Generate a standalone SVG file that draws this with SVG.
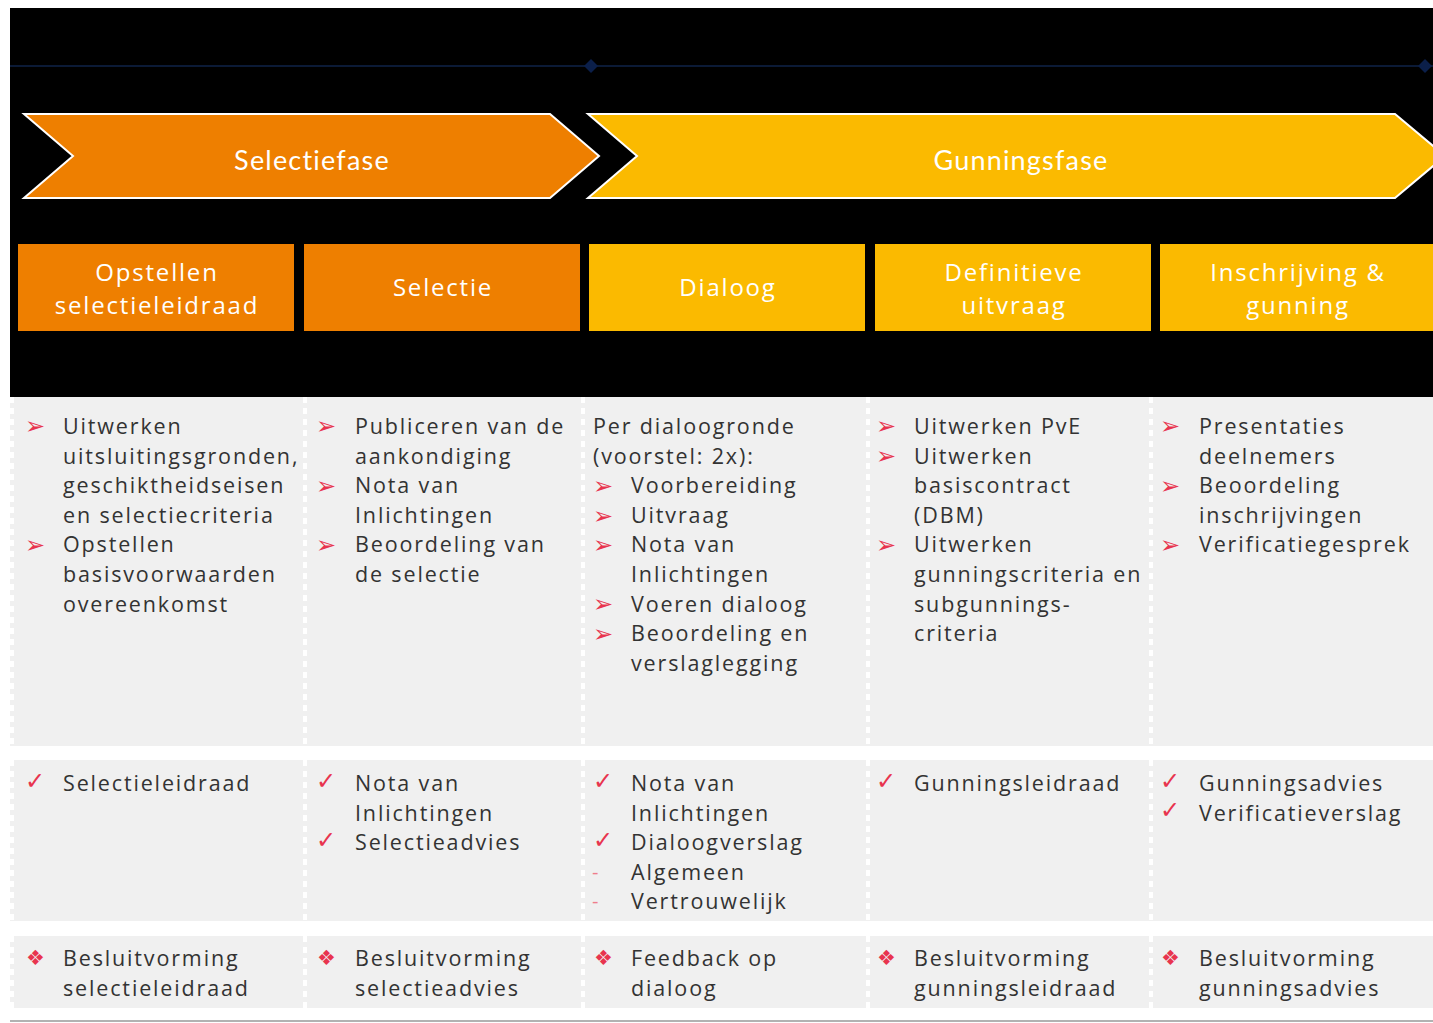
<svg xmlns="http://www.w3.org/2000/svg" width="1433" height="1023" viewBox="0 0 1433 1023">
<style>
.ph{font-family:Lato,"Liberation Sans",sans-serif;font-size:27px;fill:#fff;text-anchor:middle;letter-spacing:1.2px}
.hd{font-family:"Open Sans","Noto Sans",sans-serif;font-size:24px;fill:#fff;text-anchor:middle;letter-spacing:1.8px}
.tx{font-family:"Open Sans","Noto Sans",sans-serif;font-size:21.5px;fill:#333;letter-spacing:1.85px}
.bl{font-family:"DejaVu Sans",sans-serif;font-size:24px;fill:#e8344e}
.ck{font-family:"DejaVu Sans",sans-serif;font-size:24px;fill:#e8344e}
.dm{font-family:"DejaVu Sans",sans-serif;font-size:21px;fill:#e8344e}
.dash{font-family:"DejaVu Sans",sans-serif;font-size:18px;fill:#ef7d8c}
.or{fill:#ee7f00}
.ye{fill:#fbba00}
.cell{fill:#f0f0f0}
.sep{stroke:#fff;stroke-width:4;stroke-dasharray:6 5}
</style>
<rect x="0" y="0" width="1433" height="1023" fill="#fff"/>
<rect x="10" y="8" width="1423" height="389" fill="#000"/>
<g id="timeline">
<line x1="10" y1="66" x2="1433" y2="66" stroke="#0b1a36" stroke-width="2"/>
<polygon points="591,59 598,66 591,73 584,66" fill="#0b1f4a"/>
<polygon points="1425,59 1432,66 1425,73 1418,66" fill="#0b1f4a"/>
</g>
<g id="phase-selectiefase">
<polygon points="24,114 550,114 599,156 550,198 24,198 73,156" class="or" stroke="#fff" stroke-width="2"/>
<text class="ph" x="312" y="170">Selectiefase</text>
</g>
<g id="phase-gunningsfase">
<polygon points="588,114 1395,114 1445,156 1395,198 588,198 637,156" class="ye" stroke="#fff" stroke-width="2"/>
<text class="ph" x="1021" y="170">Gunningsfase</text>
</g>
<g id="h1"><rect x="18" y="244" width="276" height="87" class="or"/><text class="hd" x="157" y="281">Opstellen</text><text class="hd" x="157" y="314">selectieleidraad</text></g>
<g id="h2"><rect x="304" y="244" width="276" height="87" class="or"/><text class="hd" x="443" y="296">Selectie</text></g>
<g id="h3"><rect x="589" y="244" width="276" height="87" class="ye"/><text class="hd" x="728" y="296">Dialoog</text></g>
<g id="h4"><rect x="875" y="244" width="276" height="87" class="ye"/><text class="hd" x="1014" y="281">Definitieve</text><text class="hd" x="1014" y="314">uitvraag</text></g>
<g id="h5"><rect x="1160" y="244" width="273" height="87" class="ye"/><text class="hd" x="1298" y="281">Inschrijving &amp;</text><text class="hd" x="1298" y="314">gunning</text></g>
<g id="grid">
<rect x="10" y="397" width="1423" height="349" class="cell"/>
<rect x="10" y="760" width="1423" height="161" class="cell"/>
<rect x="10" y="936" width="1423" height="72" class="cell"/>
<g class="sep">
<line x1="12" y1="397" x2="12" y2="1008"/>
<line x1="305" y1="397" x2="305" y2="1008"/>
<line x1="583" y1="397" x2="583" y2="1008"/>
<line x1="868" y1="397" x2="868" y2="1008"/>
<line x1="1151" y1="397" x2="1151" y2="1008"/>
</g>
<line x1="10" y1="1021" x2="1433" y2="1021" stroke="#999" stroke-width="1.5"/>
</g>
<g id="c1r1">
<text class="bl" x="25" y="434">➢</text><text class="bl" x="25" y="553">➢</text>
<text class="tx" x="63" y="434">Uitwerken</text>
<text class="tx" x="63" y="464">uitsluitingsgronden,</text>
<text class="tx" x="63" y="493">geschiktheidseisen</text>
<text class="tx" x="63" y="523">en selectiecriteria</text>
<text class="tx" x="63" y="552">Opstellen</text>
<text class="tx" x="63" y="582">basisvoorwaarden</text>
<text class="tx" x="63" y="612">overeenkomst</text>
</g>
<g id="c2r1">
<text class="bl" x="316" y="434">➢</text><text class="bl" x="316" y="494">➢</text><text class="bl" x="316" y="553">➢</text>
<text class="tx" x="355" y="434">Publiceren van de</text>
<text class="tx" x="355" y="464">aankondiging</text>
<text class="tx" x="355" y="493">Nota van</text>
<text class="tx" x="355" y="523">Inlichtingen</text>
<text class="tx" x="355" y="552">Beoordeling van</text>
<text class="tx" x="355" y="582">de selectie</text>
</g>
<g id="c3r1">
<text class="tx" x="593" y="434">Per dialoogronde</text>
<text class="tx" x="593" y="464">(voorstel: 2x):</text>
<text class="bl" x="593" y="494">➢</text><text class="bl" x="593" y="524">➢</text><text class="bl" x="593" y="553">➢</text><text class="bl" x="593" y="612">➢</text><text class="bl" x="593" y="642">➢</text>
<text class="tx" x="631" y="493">Voorbereiding</text>
<text class="tx" x="631" y="523">Uitvraag</text>
<text class="tx" x="631" y="552">Nota van</text>
<text class="tx" x="631" y="582">Inlichtingen</text>
<text class="tx" x="631" y="612">Voeren dialoog</text>
<text class="tx" x="631" y="641">Beoordeling en</text>
<text class="tx" x="631" y="671">verslaglegging</text>
</g>
<g id="c4r1">
<text class="bl" x="876" y="434">➢</text><text class="bl" x="876" y="464">➢</text><text class="bl" x="876" y="553">➢</text>
<text class="tx" x="914" y="434">Uitwerken PvE</text>
<text class="tx" x="914" y="464">Uitwerken</text>
<text class="tx" x="914" y="493">basiscontract</text>
<text class="tx" x="914" y="523">(DBM)</text>
<text class="tx" x="914" y="552">Uitwerken</text>
<text class="tx" x="914" y="582">gunningscriteria en</text>
<text class="tx" x="914" y="612">subgunnings-</text>
<text class="tx" x="914" y="641">criteria</text>
</g>
<g id="c5r1">
<text class="bl" x="1160" y="434">➢</text><text class="bl" x="1160" y="494">➢</text><text class="bl" x="1160" y="553">➢</text>
<text class="tx" x="1199" y="434">Presentaties</text>
<text class="tx" x="1199" y="464">deelnemers</text>
<text class="tx" x="1199" y="493">Beoordeling</text>
<text class="tx" x="1199" y="523">inschrijvingen</text>
<text class="tx" x="1199" y="552">Verificatiegesprek</text>
</g>
<g id="c1r2"><text class="ck" x="25" y="789">✓</text><text class="tx" x="63" y="791">Selectieleidraad</text></g>
<g id="c2r2">
<text class="ck" x="316" y="789">✓</text><text class="ck" x="316" y="848">✓</text>
<text class="tx" x="355" y="791">Nota van</text>
<text class="tx" x="355" y="821">Inlichtingen</text>
<text class="tx" x="355" y="850">Selectieadvies</text>
</g>
<g id="c3r2">
<text class="ck" x="593" y="789">✓</text><text class="ck" x="593" y="848">✓</text>
<text class="dash" x="592" y="878">-</text><text class="dash" x="592" y="907">-</text>
<text class="tx" x="631" y="791">Nota van</text>
<text class="tx" x="631" y="821">Inlichtingen</text>
<text class="tx" x="631" y="850">Dialoogverslag</text>
<text class="tx" x="631" y="880">Algemeen</text>
<text class="tx" x="631" y="909">Vertrouwelijk</text>
</g>
<g id="c4r2"><text class="ck" x="876" y="789">✓</text><text class="tx" x="914" y="791">Gunningsleidraad</text></g>
<g id="c5r2">
<text class="ck" x="1160" y="789">✓</text><text class="ck" x="1160" y="818">✓</text>
<text class="tx" x="1199" y="791">Gunningsadvies</text>
<text class="tx" x="1199" y="821">Verificatieverslag</text>
</g>
<g id="c1r3"><text class="dm" x="26" y="965">❖</text><text class="tx" x="63" y="966">Besluitvorming</text><text class="tx" x="63" y="996">selectieleidraad</text></g>
<g id="c2r3"><text class="dm" x="317" y="965">❖</text><text class="tx" x="355" y="966">Besluitvorming</text><text class="tx" x="355" y="996">selectieadvies</text></g>
<g id="c3r3"><text class="dm" x="594" y="965">❖</text><text class="tx" x="631" y="966">Feedback op</text><text class="tx" x="631" y="996">dialoog</text></g>
<g id="c4r3"><text class="dm" x="877" y="965">❖</text><text class="tx" x="914" y="966">Besluitvorming</text><text class="tx" x="914" y="996">gunningsleidraad</text></g>
<g id="c5r3"><text class="dm" x="1161" y="965">❖</text><text class="tx" x="1199" y="966">Besluitvorming</text><text class="tx" x="1199" y="996">gunningsadvies</text></g>
</svg>
